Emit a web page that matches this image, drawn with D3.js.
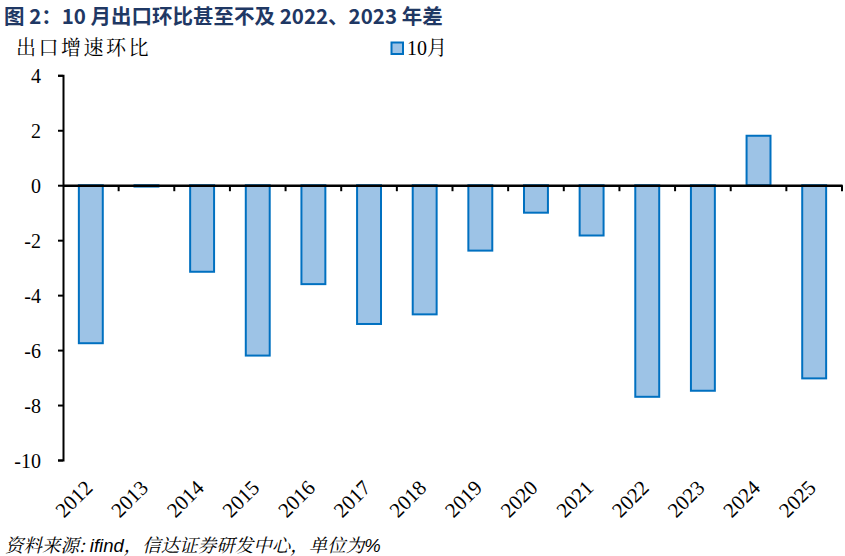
<!DOCTYPE html>
<html><head><meta charset="utf-8">
<script src="https://cdn.jsdelivr.net/npm/d3@7"></script>
<style>body{margin:0;background:#fff}svg{display:block}
.serif{font-family:"Liberation Serif","Times New Roman",serif;}
</style>
</head><body>
<svg id="c" width="845" height="556"></svg>
<script>
const categories = ["2012","2013","2014","2015","2016","2017","2018","2019","2020","2021","2022","2023","2024","2025"];
const values = [-5.75,-0.05,-3.15,-6.2,-3.6,-5.05,-4.7,-2.38,-1.0,-1.83,-7.7,-7.48,1.8,-7.03];
const yTicks = [4,2,0,-2,-4,-6,-8,-10];
const seriesName = "10月";
const titleText = "图 2：10 月出口环比甚至不及 2022、2023 年差";
const yTitle = "出口增速环比";
const sourceParts = [["资料来源: ", "cjk"], ["ifind", "lat"], ["，信达证券研发中心，单位为", "cjk"], ["%", "lat"]];

const svg = d3.select("#c");
const left = 63, right = 842;
const x = d3.scaleBand().domain(categories).range([left, right]).paddingInner(0.57).paddingOuter(0.285);
const xb = d3.scaleBand().domain(categories).range([left, right]);
const y = d3.scaleLinear().domain([-10, 4]).range([460, 75.3]);

// title
svg.append("text").attr("x", 4).attr("y", 24)
  .attr("font-family", "'Noto Sans CJK SC', sans-serif").attr("font-weight", "bold")
  .attr("font-size", 20.5).attr("fill", "#1F3864").text(titleText);

svg.append("text").attr("x", 16).attr("y", 55)
  .attr("font-family", "'Noto Serif CJK SC', serif")
  .attr("font-size", 20).attr("letter-spacing", 2.5).attr("fill", "#000").text(yTitle);

// legend
svg.append("rect").attr("x", 391.5).attr("y", 42.5).attr("width", 11.5).attr("height", 11.5)
  .attr("fill", "#9DC3E6").attr("stroke", "#0070C0").attr("stroke-width", 2);
svg.append("text").attr("x", 407).attr("y", 55)
  .attr("font-family", "'Liberation Serif', 'Noto Serif CJK SC', serif")
  .attr("font-size", 20).attr("fill", "#000").text(seriesName);

// bars
svg.append("g").selectAll("rect").data(values).join("rect")
  .attr("x", (d, i) => x(categories[i]))
  .attr("width", x.bandwidth())
  .attr("y", d => y(Math.max(0, d)))
  .attr("height", d => Math.abs(y(d) - y(0)))
  .attr("fill", "#9DC3E6").attr("stroke", "#0070C0").attr("stroke-width", 2);

// y axis
const yAxis = svg.append("g").attr("transform", `translate(${left},0)`)
  .call(d3.axisLeft(y).tickValues(yTicks).tickSize(5).tickPadding(17).tickFormat(d => String(d)));
yAxis.attr("font-family", null).attr("font-size", null);
yAxis.select(".domain").attr("stroke", "#000").attr("stroke-width", 2);
yAxis.selectAll(".tick line").attr("stroke", "#000").attr("stroke-width", 2);
yAxis.selectAll(".tick text").attr("class", "serif").attr("font-size", 20).attr("fill", "#000").attr("dy", "0.35em");

// x axis at zero
const xAxis = svg.append("g").attr("transform", `translate(0,${y(0)})`)
  .call(d3.axisBottom(xb).tickSize(0).tickFormat(""));
xAxis.select(".domain").attr("stroke", "#000").attr("stroke-width", 2.5);
xAxis.selectAll(".tick").remove();
const bounds = categories.map(c => xb(c) + xb.bandwidth());
svg.append("g").selectAll("line").data(bounds).join("line")
  .attr("x1", d => d).attr("x2", d => d).attr("y1", y(0)).attr("y2", y(0) + 6)
  .attr("stroke", "#000").attr("stroke-width", 2);

// x labels
svg.append("g").selectAll("text").data(categories).join("text")
  .attr("class", "serif")
  .attr("transform", d => `translate(${xb(d) + xb.bandwidth() / 2 + 3},${489}) rotate(-45)`)
  .attr("text-anchor", "end")
  .attr("font-size", 21).attr("fill", "#000")
  .text(d => d);

// source
svg.append("text").attr("x", 5).attr("y", 552)
  .attr("font-style", "italic").attr("font-size", 18.5).attr("fill", "#000")
  .selectAll("tspan").data(sourceParts).join("tspan")
  .attr("font-family", d => d[1] === "cjk" ? "'Noto Serif CJK SC', serif" : "'Liberation Sans Narrow', 'Liberation Sans', sans-serif")
  .text(d => d[0]);
</script>
</body></html>
